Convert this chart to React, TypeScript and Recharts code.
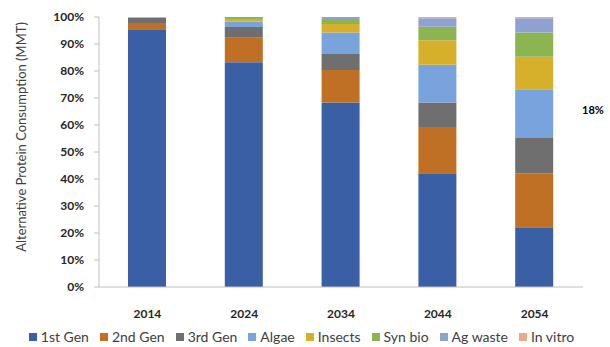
import { BarChart, Bar, XAxis, YAxis, Legend, Label } from 'recharts';

const years = ['2014', '2024', '2034', '2044', '2054'];

const firstGen = [95.5, 83.2, 68.3, 42.1, 22.1];
const secondGen = [2.3, 9.1, 12.1, 17.2, 20.0];
const thirdGen = [1.8, 4.0, 5.9, 9.0, 13.1];
const algae = [0.2, 2.0, 8.0, 14.0, 18.0];
const insects = [0.1, 1.0, 3.1, 9.1, 12.1];
const synBio = [0.1, 0.7, 1.9, 5.0, 9.0];
const agWaste = [0, 0, 0.7, 3.1, 5.2];
const inVitro = [0, 0, 0, 0.5, 0.5];

const yTicks = [0, 0.1, 0.2, 0.3, 0.4, 0.5, 0.6, 0.7, 0.8, 0.9, 1];
const boundaryTicks = [0, 1, 2, 3, 4, 5];

const series = [
  { key: '1st Gen', values: firstGen, color: '#3A5FA4' },
  { key: '2nd Gen', values: secondGen, color: '#BF7024' },
  { key: '3rd Gen', values: thirdGen, color: '#6F6F6F' },
  { key: 'Algae', values: algae, color: '#78A3DC' },
  { key: 'Insects', values: insects, color: '#D6B02B' },
  { key: 'Syn bio', values: synBio, color: '#8CB552' },
  { key: 'Ag waste', values: agWaste, color: '#8EA2D2' },
  { key: 'In vitro', values: inVitro, color: '#E9A98A' },
];

const data = years.map((year, i) => {
  const row: Record<string, string | number> = { year };
  series.forEach((s) => {
    row[s.key] = s.values[i];
  });
  return row;
});

const FONT = 'Lato, "Open Sans", sans-serif';

// legend drawn in series order (recharts sorts by name otherwise)
function LegendRow() {
  return (
    <div
      style={{
        display: 'flex',
        justifyContent: 'center',
        gap: 11,
        marginLeft: -20,
        fontSize: 14,
        color: '#404040',
        fontFamily: FONT,
        lineHeight: '20px',
      }}
    >
      {series.map((s) => (
        <span key={s.key} style={{ display: 'inline-flex', alignItems: 'center' }}>
          <span style={{ width: 8, height: 8, background: s.color, marginRight: 4, display: 'inline-block' }} />
          {s.key}
        </span>
      ))}
    </div>
  );
}

export default function App() {
  return (
    <div style={{ position: 'absolute', left: 0, top: 0, width: 610, height: 347, background: '#fff', fontFamily: FONT }}>
      <BarChart
        width={610}
        height={347}
        data={data}
        stackOffset="expand"
        barSize={38}
        margin={{ top: 17, right: 27, left: 40, bottom: 0 }}
      >
        <XAxis
          xAxisId="t"
          type="number"
          domain={[0, 5]}
          ticks={boundaryTicks}
          tick={false}
          axisLine={false}
          tickLine={{ stroke: '#BFBFBF' }}
          tickSize={5}
          height={0}
        />
        <XAxis
          dataKey="year"
          axisLine={{ stroke: '#BFBFBF' }}
          tickLine={false}
          tickSize={0}
          tickMargin={22}
          height={40}
          tick={{ fill: '#262626', fontSize: 12, fontWeight: 700, fontFamily: FONT }}
        />
        <YAxis
          width={59}
          domain={[0, 1]}
          ticks={yTicks}
          tickFormatter={(v: number) => `${Math.round(v * 100)}%`}
          axisLine={{ stroke: '#BFBFBF' }}
          tickLine={{ stroke: '#BFBFBF' }}
          tickSize={5}
          tickMargin={10}
          tick={{ fill: '#262626', fontSize: 12, fontWeight: 700, fontFamily: FONT }}
        >
          <Label
            content={() => (
              <text
                x={21}
                y={137}
                transform="rotate(-90, 21, 137)"
                textAnchor="middle"
                dominantBaseline="central"
                fill="#404040"
                fontSize={13}
                fontFamily={FONT}
              >
                Alternative Protein Consumption (MMT)
              </text>
            )}
          />
        </YAxis>
        <Legend verticalAlign="bottom" height={20} content={() => <LegendRow />} />
        {series.map((s) => (
          <Bar key={s.key} dataKey={s.key} stackId="a" fill={s.color} isAnimationActive={false} />
        ))}
      </BarChart>
      <div
        style={{
          position: 'absolute',
          left: 582,
          top: 103,
          fontSize: 11,
          fontWeight: 700,
          color: '#000',
          fontFamily: FONT,
        }}
      >
        18%
      </div>
    </div>
  );
}
